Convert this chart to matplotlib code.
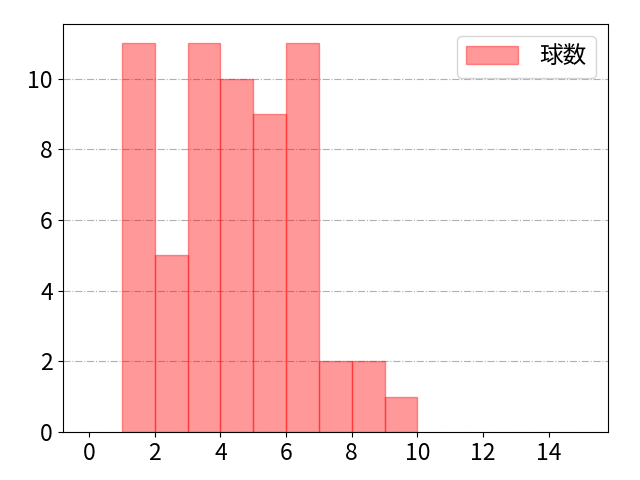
import matplotlib
matplotlib.use("Agg")
import matplotlib.pyplot as plt

plt.rcParams['font.family'] = ['Noto Sans CJK JP', 'DejaVu Sans']

# histogram bins (left edges) and counts
bin_lefts = [1, 2, 3, 4, 5, 6, 7, 8, 9]
counts = [11, 5, 11, 10, 9, 11, 2, 2, 1]

fig, ax = plt.subplots(figsize=(6.4, 4.8), dpi=100)
fig.subplots_adjust(left=0.098, right=0.95, top=0.95, bottom=0.1)

ax.bar(bin_lefts, counts, width=1.0, align='edge', color='red', alpha=0.4,
       edgecolor='red', linewidth=1.0, label='球数')

ax.set_xlim(-0.8, 15.8)
ax.set_xticks(range(0, 16, 2))
ax.grid(axis='y', linestyle='-.', color='#b0b0b0')
ax.set_axisbelow(True)
ax.tick_params(labelsize=16.5)
ax.legend(loc='upper right', fontsize=17, handlelength=2.2, handleheight=0.8,
          handletextpad=0.9)

fig.savefig('out.png')
